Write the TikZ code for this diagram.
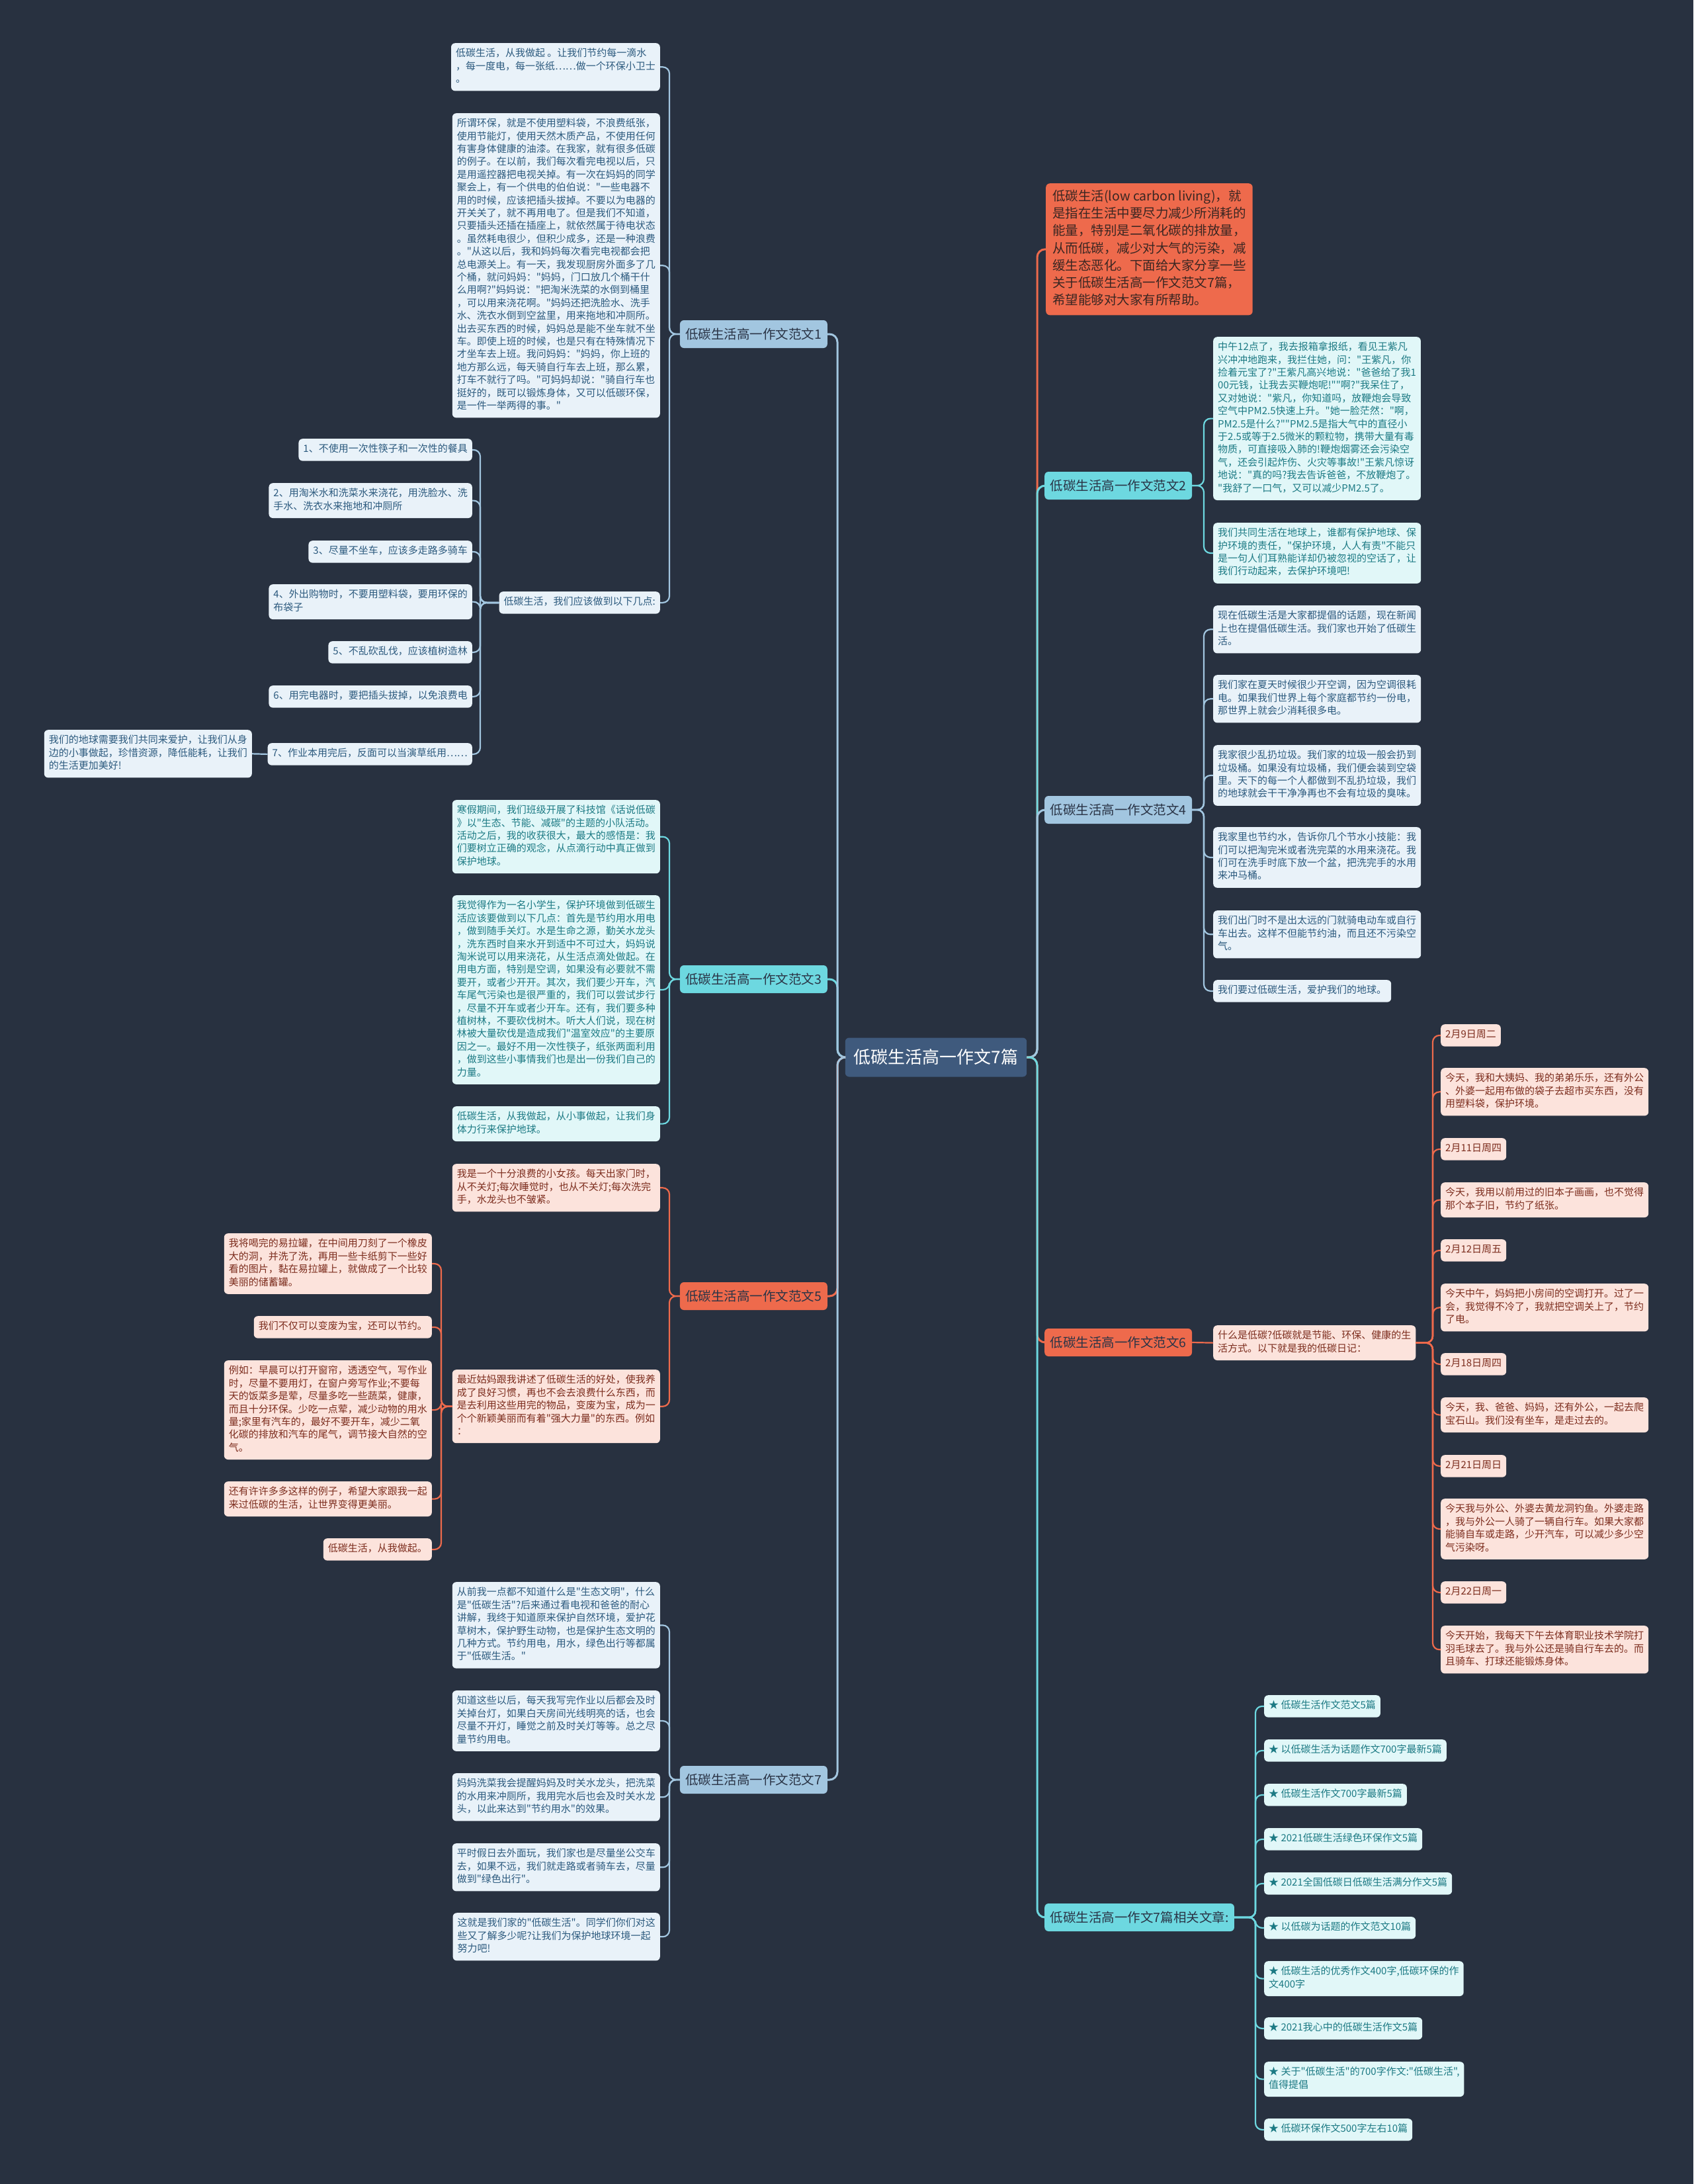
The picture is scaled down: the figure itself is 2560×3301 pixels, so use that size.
\documentclass[tikz,border=0pt]{standalone}
\usepackage{fontspec}
\setmainfont{Noto Sans CJK SC}[Ligatures=TeXOff]
\definecolor{bg}{HTML}{283140}
\definecolor{cfill}{HTML}{3F5A7D}
\definecolor{bblue}{HTML}{A2C6E0}
\definecolor{bcyan}{HTML}{6DD8E0}
\definecolor{borange}{HTML}{EE6A4C}
\definecolor{lblue}{HTML}{E9F2F9}
\definecolor{lcyan}{HTML}{E1F7F8}
\definecolor{lorange}{HTML}{FCE3DC}
\definecolor{tblue}{HTML}{2C5A7E}
\definecolor{tcyan}{HTML}{1C7A84}
\definecolor{torange}{HTML}{7C2D1E}
\definecolor{tdark}{HTML}{2A3446}
\definecolor{tintro}{HTML}{3A2622}
\newcommand\tx[1]{\strut#1\strut}
\begin{document}
\begin{tikzpicture}[x=1pt,y=-1pt,
  leafbase/.style={rounded corners=6pt, inner xsep=7pt, inner ysep=7pt, align=left, font=\fontsize{15}{19.4}\selectfont},
  leafb/.style={leafbase, fill=lblue, text=tblue},
  leafc/.style={leafbase, fill=lcyan, text=tcyan},
  leafo/.style={leafbase, fill=lorange, text=torange},
  brbase/.style={rounded corners=6pt, inner xsep=8.5pt, minimum height=42pt, font=\fontsize{19.5}{24}\selectfont, text=tdark},
  brb/.style={brbase, fill=bblue},
  brc/.style={brbase, fill=bcyan},
  bro/.style={brbase, fill=borange},
  cen/.style={rounded corners=6pt, fill=cfill, text=white, inner xsep=13pt, minimum height=59pt, font=\fontsize{26}{30}\selectfont},
  intro/.style={rounded corners=6pt, fill=borange, text=tintro, inner xsep=10pt, inner ysep=7.5pt, align=left, font=\fontsize{19.5}{26.3}\selectfont},
  cb/.style={draw=bblue, line width=2.2pt, rounded corners=10pt},
  cc/.style={draw=bcyan, line width=2.2pt, rounded corners=10pt},
  co/.style={draw=borange, line width=2.2pt, rounded corners=10pt},
  mb/.style={draw=bblue, line width=3pt, rounded corners=12pt},
  mc/.style={draw=bcyan, line width=3pt, rounded corners=12pt},
  mo/.style={draw=borange, line width=3pt, rounded corners=12pt}
]
\useasboundingbox (0,0) rectangle (2560,3301);
\fill[bg] (0,0) rectangle (2560,3301);

% centre
\node[cen] (c) at (1415,1598) {低碳生活高一作文7篇};

% main branches
\node[brb, anchor=east] (b1) at (1251,505) {低碳生活高一作文范文1};
\node[brc, anchor=east] (b3) at (1251,1480) {低碳生活高一作文范文3};
\node[bro, anchor=east] (b5) at (1251,1959) {低碳生活高一作文范文5};
\node[brb, anchor=east] (b7) at (1251,2690) {低碳生活高一作文范文7};
\node[intro, anchor=north west] (in) at (1581,277) {\tx{低碳生活(low carbon living)，就\\是指在生活中要尽力减少所消耗的\\能量，特别是二氧化碳的排放量，\\从而低碳，减少对大气的污染，减\\缓生态恶化。下面给大家分享一些\\关于低碳生活高一作文范文7篇，\\希望能够对大家有所帮助。}};
\node[brc, anchor=west] (b2) at (1579,734) {低碳生活高一作文范文2};
\node[brb, anchor=west] (b4) at (1579,1224) {低碳生活高一作文范文4};
\node[bro, anchor=west] (b6) at (1579,2029) {低碳生活高一作文范文6};
\node[brc, anchor=west] (rel) at (1579,2898) {低碳生活高一作文7篇相关文章:};

% branch 1
\node[leafb, anchor=north east] (l1a) at (998,65) {\tx{低碳生活，从我做起 。让我们节约每一滴水\\，每一度电，每一张纸……做一个环保小卫士\\。}};
\node[leafb, anchor=north east] (l1b) at (998,171) {\tx{所谓环保，就是不使用塑料袋，不浪费纸张，\\使用节能灯，使用天然木质产品，不使用任何\\有害身体健康的油漆。在我家，就有很多低碳\\的例子。在以前，我们每次看完电视以后，只\\是用遥控器把电视关掉。有一次在妈妈的同学\\聚会上，有一个供电的伯伯说："一些电器不\\用的时候，应该把插头拔掉。不要以为电器的\\开关关了，就不再用电了。但是我们不知道，\\只要插头还插在插座上，就依然属于待电状态\\。虽然耗电很少，但积少成多，还是一种浪费\\。"从这以后，我和妈妈每次看完电视都会把\\总电源关上。有一天，我发现厨房外面多了几\\个桶，就问妈妈："妈妈，门口放几个桶干什\\么用啊?"妈妈说："把淘米洗菜的水倒到桶里\\，可以用来浇花啊。"妈妈还把洗脸水、洗手\\水、洗衣水倒到空盆里，用来拖地和冲厕所。\\出去买东西的时候，妈妈总是能不坐车就不坐\\车。即使上班的时候，也是只有在特殊情况下\\才坐车去上班。我问妈妈："妈妈，你上班的\\地方那么远，每天骑自行车去上班，那么累，\\打车不就行了吗。"可妈妈却说："骑自行车也\\挺好的，既可以锻炼身体，又可以低碳环保，\\是一件一举两得的事。"}};
\node[leafb, anchor=north east] (l1c) at (998,894) {\tx{低碳生活，我们应该做到以下几点:}};
\node[leafb, anchor=north east] (i1) at (714,663) {\tx{1、不使用一次性筷子和一次性的餐具}};
\node[leafb, anchor=north east] (i2) at (714,730) {\tx{2、用淘米水和洗菜水来浇花，用洗脸水、洗\\手水、洗衣水来拖地和冲厕所}};
\node[leafb, anchor=north east] (i3) at (714,817) {\tx{3、尽量不坐车，应该多走路多骑车}};
\node[leafb, anchor=north east] (i4) at (714,883) {\tx{4、外出购物时，不要用塑料袋，要用环保的\\布袋子}};
\node[leafb, anchor=north east] (i5) at (714,969) {\tx{5、不乱砍乱伐，应该植树造林}};
\node[leafb, anchor=north east] (i6) at (714,1036) {\tx{6、用完电器时，要把插头拔掉，以免浪费电}};
\node[leafb, anchor=north east] (i7) at (714,1123) {\tx{7、作业本用完后，反面可以当演草纸用……}};
\node[leafb, anchor=north east] (i7c) at (381,1103) {\tx{我们的地球需要我们共同来爱护，让我们从身\\边的小事做起，珍惜资源，降低能耗，让我们\\的生活更加美好!}};

% branch 3
\node[leafc, anchor=north east] (l3a) at (998,1209) {\tx{寒假期间，我们班级开展了科技馆《话说低碳\\》以"生态、节能、减碳"的主题的小队活动。\\活动之后，我的收获很大，最大的感悟是：我\\们要树立正确的观念，从点滴行动中真正做到\\保护地球。}};
\node[leafc, anchor=north east] (l3b) at (998,1353) {\tx{我觉得作为一名小学生，保护环境做到低碳生\\活应该要做到以下几点：首先是节约用水用电\\，做到随手关灯。水是生命之源，勤关水龙头\\，洗东西时自来水开到适中不可过大，妈妈说\\淘米说可以用来浇花，从生活点滴处做起。在\\用电方面，特别是空调，如果没有必要就不需\\要开，或者少开开。其次，我们要少开车，汽\\车尾气污染也是很严重的，我们可以尝试步行\\，尽量不开车或者少开车。还有，我们要多种\\植树林，不要砍伐树木。听大人们说，现在树\\林被大量砍伐是造成我们"温室效应"的主要原\\因之一。最好不用一次性筷子，纸张两面利用\\，做到这些小事情我们也是出一份我们自己的\\力量。}};
\node[leafc, anchor=north east] (l3c) at (998,1672) {\tx{低碳生活，从我做起，从小事做起，让我们身\\体力行来保护地球。}};

% branch 5
\node[leafo, anchor=north east] (l5a) at (998,1759) {\tx{我是一个十分浪费的小女孩。每天出家门时，\\从不关灯;每次睡觉时，也从不关灯;每次洗完\\手，水龙头也不皱紧。}};
\node[leafo, anchor=north east] (l5b) at (998,2070) {\tx{最近姑妈跟我讲述了低碳生活的好处，使我养\\成了良好习惯，再也不会去浪费什么东西，而\\是去利用这些用完的物品，变废为宝，成为一\\个个新颖美丽而有着"强大力量"的东西。例如\\：}};
\node[leafo, anchor=north east] (l5b1) at (653,1864) {\tx{我将喝完的易拉罐，在中间用刀刻了一个橡皮\\大的洞，并洗了洗，再用一些卡纸剪下一些好\\看的图片，黏在易拉罐上，就做成了一个比较\\美丽的储蓄罐。}};
\node[leafo, anchor=north east] (l5b2) at (653,1989) {\tx{我们不仅可以变废为宝，还可以节约。}};
\node[leafo, anchor=north east] (l5b3) at (653,2056) {\tx{例如：早晨可以打开窗帘，透透空气，写作业\\时，尽量不要用灯，在窗户旁写作业;不要每\\天的饭菜多是荤，尽量多吃一些蔬菜，健康，\\而且十分环保。少吃一点荤，减少动物的用水\\量;家里有汽车的，最好不要开车，减少二氧\\化碳的排放和汽车的尾气，调节接大自然的空\\气。}};
\node[leafo, anchor=north east] (l5b4) at (653,2239) {\tx{还有许许多多这样的例子，希望大家跟我一起\\来过低碳的生活，让世界变得更美丽。}};
\node[leafo, anchor=north east] (l5b5) at (653,2325) {\tx{低碳生活，从我做起。}};

% branch 7
\node[leafb, anchor=north east] (l7a) at (998,2391) {\tx{从前我一点都不知道什么是"生态文明"，什么\\是"低碳生活"?后来通过看电视和爸爸的耐心\\讲解，我终于知道原来保护自然环境，爱护花\\草树木，保护野生动物，也是保护生态文明的\\几种方式。节约用电，用水，绿色出行等都属\\于"低碳生活。"}};
\node[leafb, anchor=north east] (l7b) at (998,2555) {\tx{知道这些以后，每天我写完作业以后都会及时\\关掉台灯，如果白天房间光线明亮的话，也会\\尽量不开灯，睡觉之前及时关灯等等。总之尽\\量节约用电。}};
\node[leafb, anchor=north east] (l7c) at (998,2680) {\tx{妈妈洗菜我会提醒妈妈及时关水龙头，把洗菜\\的水用来冲厕所，我用完水后也会及时关水龙\\头，以此来达到"节约用水"的效果。}};
\node[leafb, anchor=north east] (l7d) at (998,2786) {\tx{平时假日去外面玩，我们家也是尽量坐公交车\\去，如果不远，我们就走路或者骑车去，尽量\\做到"绿色出行"。}};
\node[leafb, anchor=north east] (l7e) at (998,2891) {\tx{这就是我们家的"低碳生活"。同学们你们对这\\些又了解多少呢?让我们为保护地球环境一起\\努力吧!}};

% branch 2
\node[leafc, anchor=north west] (l2a) at (1834,509) {\tx{中午12点了，我去报箱拿报纸，看见王紫凡\\兴冲冲地跑来，我拦住她，问："王紫凡，你\\捡着元宝了?"王紫凡高兴地说："爸爸给了我1\\00元钱，让我去买鞭炮呢!""啊?"我呆住了，\\又对她说："紫凡，你知道吗，放鞭炮会导致\\空气中PM2.5快速上升。"她一脸茫然："啊，\\PM2.5是什么?""PM2.5是指大气中的直径小\\于2.5或等于2.5微米的颗粒物，携带大量有毒\\物质，可直接吸入肺的!鞭炮烟雾还会污染空\\气，还会引起炸伤、火灾等事故!"王紫凡惊讶\\地说："真的吗?我去告诉爸爸，不放鞭炮了。\\"我舒了一口气，又可以减少PM2.5了。}};
\node[leafc, anchor=north west] (l2b) at (1834,790) {\tx{我们共同生活在地球上，谁都有保护地球、保\\护环境的责任，"保护环境，人人有责"不能只\\是一句人们耳熟能详却仍被忽视的空话了，让\\我们行动起来，去保护环境吧!}};

% branch 4
\node[leafb, anchor=north west] (l4a) at (1834,915) {\tx{现在低碳生活是大家都提倡的话题，现在新闻\\上也在提倡低碳生活。我们家也开始了低碳生\\活。}};
\node[leafb, anchor=north west] (l4b) at (1834,1020) {\tx{我们家在夏天时候很少开空调，因为空调很耗\\电。如果我们世界上每个家庭都节约一份电，\\那世界上就会少消耗很多电。}};
\node[leafb, anchor=north west] (l4c) at (1834,1126) {\tx{我家很少乱扔垃圾。我们家的垃圾一般会扔到\\垃圾桶。如果没有垃圾桶，我们便会装到空袋\\里。天下的每一个人都做到不乱扔垃圾，我们\\的地球就会干干净净再也不会有垃圾的臭味。}};
\node[leafb, anchor=north west] (l4d) at (1834,1250) {\tx{我家里也节约水，告诉你几个节水小技能：我\\们可以把淘完米或者洗完菜的水用来浇花。我\\们可在洗手时底下放一个盆，把洗完手的水用\\来冲马桶。}};
\node[leafb, anchor=north west] (l4e) at (1834,1376) {\tx{我们出门时不是出太远的门就骑电动车或自行\\车出去。这样不但能节约油，而且还不污染空\\气。}};
\node[leafb, anchor=north west] (l4f) at (1834,1481) {\tx{我们要过低碳生活，爱护我们的地球。}};

% branch 6
\node[leafo, anchor=north west] (m6) at (1834,2003) {\tx{什么是低碳?低碳就是节能、环保、健康的生\\活方式。以下就是我的低碳日记：}};
\node[leafo, anchor=north west] (d1) at (2178,1548) {\tx{2月9日周二}};
\node[leafo, anchor=north west] (e1) at (2178,1614) {\tx{今天，我和大姨妈、我的弟弟乐乐，还有外公\\、外婆一起用布做的袋子去超市买东西，没有\\用塑料袋，保护环境。}};
\node[leafo, anchor=north west] (d2) at (2178,1720) {\tx{2月11日周四}};
\node[leafo, anchor=north west] (e2) at (2178,1787) {\tx{今天，我用以前用过的旧本子画画，也不觉得\\那个本子旧，节约了纸张。}};
\node[leafo, anchor=north west] (d3) at (2178,1873) {\tx{2月12日周五}};
\node[leafo, anchor=north west] (e3) at (2178,1940) {\tx{今天中午，妈妈把小房间的空调打开。过了一\\会，我觉得不冷了，我就把空调关上了，节约\\了电。}};
\node[leafo, anchor=north west] (d4) at (2178,2045) {\tx{2月18日周四}};
\node[leafo, anchor=north west] (e4) at (2178,2112) {\tx{今天，我、爸爸、妈妈，还有外公，一起去爬\\宝石山。我们没有坐车，是走过去的。}};
\node[leafo, anchor=north west] (d5) at (2178,2199) {\tx{2月21日周日}};
\node[leafo, anchor=north west] (e5) at (2178,2265) {\tx{今天我与外公、外婆去黄龙洞钓鱼。外婆走路\\，我与外公一人骑了一辆自行车。如果大家都\\能骑自车或走路，少开汽车，可以减少多少空\\气污染呀。}};
\node[leafo, anchor=north west] (d6) at (2178,2390) {\tx{2月22日周一}};
\node[leafo, anchor=north west] (e6) at (2178,2457) {\tx{今天开始，我每天下午去体育职业技术学院打\\羽毛球去了。我与外公还是骑自行车去的。而\\且骑车、打球还能锻炼身体。}};

% related
\node[leafc, anchor=north west] (r1) at (1911,2562) {\tx{★ 低碳生活作文范文5篇}};
\node[leafc, anchor=north west] (r2) at (1911,2629) {\tx{★ 以低碳生活为话题作文700字最新5篇}};
\node[leafc, anchor=north west] (r3) at (1911,2696) {\tx{★ 低碳生活作文700字最新5篇}};
\node[leafc, anchor=north west] (r4) at (1911,2763) {\tx{★ 2021低碳生活绿色环保作文5篇}};
\node[leafc, anchor=north west] (r5) at (1911,2830) {\tx{★ 2021全国低碳日低碳生活满分作文5篇}};
\node[leafc, anchor=north west] (r6) at (1911,2897) {\tx{★ 以低碳为话题的作文范文10篇}};
\node[leafc, anchor=north west] (r7) at (1911,2964) {\tx{★ 低碳生活的优秀作文400字,低碳环保的作\\文400字}};
\node[leafc, anchor=north west] (r8) at (1911,3049) {\tx{★ 2021我心中的低碳生活作文5篇}};
\node[leafc, anchor=north west] (r9) at (1911,3116) {\tx{★ 关于"低碳生活"的700字作文:"低碳生活",\\值得提倡}};
\node[leafc, anchor=north west] (r10) at (1911,3202) {\tx{★ 低碳环保作文500字左右10篇}};

% ---- connectors: centre to branches
\draw[mc] (b3.east) -- ++(15,0) |- (c.west);
\draw[mb] (b1.east) -- ++(15,0) |- (c.west);
\draw[mo] (b5.east) -- ++(15,0) |- (c.west);
\draw[mb] (b7.east) -- ++(15,0) |- (c.west);
\draw[mo] (in.west) -- ++(-13,0) |- (c.east);
\draw[mc] (b2.west) -- ++(-11,0) |- (c.east);
\draw[mb] (b4.west) -- ++(-11,0) |- (c.east);
\draw[mo] (b6.west) -- ++(-11,0) |- (c.east);
\draw[mc] (rel.west) -- ++(-11,0) |- (c.east);

% branch 1
\foreach \n in {l1a,l1b,l1c} \draw[cb] (\n.east) -- ++(14,0) |- (b1.west);
\foreach \n in {i1,i2,i3,i4,i5,i6,i7} \draw[cb] (\n.east) -- ++(12,0) |- (l1c.west);
\draw[cb] (i7c.east) -- (i7.west);
% branch 3
\foreach \n in {l3a,l3b,l3c} \draw[cc] (\n.east) -- ++(14,0) |- (b3.west);
% branch 5
\foreach \n in {l5a,l5b} \draw[co] (\n.east) -- ++(14,0) |- (b5.west);
\foreach \n in {l5b1,l5b2,l5b3,l5b4,l5b5} \draw[co] (\n.east) -- ++(14,0) |- (l5b.west);
% branch 7
\foreach \n in {l7a,l7b,l7c,l7d,l7e} \draw[cb] (\n.east) -- ++(14,0) |- (b7.west);
% branch 2
\foreach \n in {l2a,l2b} \draw[cc] (\n.west) -- ++(-14,0) |- (b2.east);
% branch 4
\foreach \n in {l4a,l4b,l4c,l4d,l4e,l4f} \draw[cb] (\n.west) -- ++(-14,0) |- (b4.east);
% branch 6
\draw[co] (m6.west) -- (b6.east);
\foreach \n in {d1,e1,d2,e2,d3,e3,d4,e4,d5,e5,d6,e6} \draw[co] (\n.west) -- ++(-12,0) |- (m6.east);
% related
\foreach \n in {r1,r2,r3,r4,r5,r6,r7,r8,r9,r10} \draw[cc] (\n.west) -- ++(-13,0) |- (rel.east);
\end{tikzpicture}
\end{document}
